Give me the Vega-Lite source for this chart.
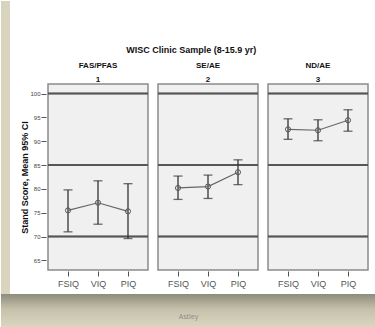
{
  "$schema": "https://vega.github.io/schema/vega-lite/v6.json",
  "background": "white",
  "padding": 0,
  "config": {
    "font": "Liberation Sans",
    "axisY": {"labelFontSize": 6, "labelColor": "#444", "tickColor": "#555", "tickSize": 5, "domain": false, "labelPadding": 1, "titleFontSize": 9, "titleFontWeight": "bold", "titleColor": "#111", "titlePadding": 0, "grid": false, "labelOverlap": false},
    "axisX": {"title": null, "labelAngle": 0, "labelFontSize": 9, "labelColor": "#555", "tickColor": "#555", "tickSize": 5, "domain": false, "labelPadding": 3}
  },
  "spacing": 0,
  "vconcat": [
    {
      "spacing": 10,
      "hconcat": [
        {
          "width": 9,
          "height": 293,
          "view": {"stroke": null},
          "data": {"values": [{"t": ""}]},
          "layer": [
            {"mark": {"type": "rect", "color": "#d9d4bd"}, "encoding": {}},
            {"mark": {"type": "rule", "x": 8.5, "color": "#333", "strokeWidth": 1}, "encoding": {}}
          ]
        },
        {
          "spacing": 0,
          "vconcat": [
            {
              "width": 10,
              "height": 45,
              "view": {"stroke": null},
              "data": {"values": [{"t": ""}]},
              "mark": {"type": "text"},
              "encoding": {"text": {"field": "t"}}
            },
            {
              "title": {"text": "WISC Clinic Sample (8-15.9 yr)", "fontSize": 9, "fontWeight": "bold", "color": "#111", "anchor": "middle", "frame": "bounds", "offset": 7, "dx": -4},
              "data": {"values": [
                {"group": "FAS/PFAS|1", "measure": "FSIQ", "mean": 75.5, "lo": 71.0, "hi": 79.8},
                {"group": "FAS/PFAS|1", "measure": "VIQ", "mean": 77.1, "lo": 72.6, "hi": 81.7},
                {"group": "FAS/PFAS|1", "measure": "PIQ", "mean": 75.3, "lo": 69.6, "hi": 81.1},
                {"group": "SE/AE|2", "measure": "FSIQ", "mean": 80.2, "lo": 77.8, "hi": 82.7},
                {"group": "SE/AE|2", "measure": "VIQ", "mean": 80.5, "lo": 78.0, "hi": 82.9},
                {"group": "SE/AE|2", "measure": "PIQ", "mean": 83.5, "lo": 80.9, "hi": 86.1},
                {"group": "ND/AE|3", "measure": "FSIQ", "mean": 92.5, "lo": 90.4, "hi": 94.7},
                {"group": "ND/AE|3", "measure": "VIQ", "mean": 92.3, "lo": 90.1, "hi": 94.5},
                {"group": "ND/AE|3", "measure": "PIQ", "mean": 94.4, "lo": 92.1, "hi": 96.6}
              ]},
              "facet": {
                "column": {
                  "field": "group", "type": "nominal",
                  "sort": ["FAS/PFAS|1", "SE/AE|2", "ND/AE|3"],
                  "header": {"title": null, "labelExpr": "split(datum.value, '|')", "labelFontSize": 8, "labelFontWeight": "bold", "labelColor": "#111", "labelLineHeight": 14, "labelPadding": -1}
                }
              },
              "spacing": 6,
              "spec": {
                "width": 100,
                "height": 186,
                "view": {"fill": "#f0f0f0", "stroke": "#8a8a8a", "strokeWidth": 1.5},
                "encoding": {
                  "x": {"field": "measure", "type": "nominal", "sort": ["FSIQ", "VIQ", "PIQ"], "scale": {"type": "point", "padding": 0.667}}
                },
                "layer": [
                  {"mark": {"type": "rule", "color": "#555", "strokeWidth": 1.5}, "encoding": {"x": null, "y": {"datum": 70, "type": "quantitative", "title": "Stand Score, Mean 95% CI", "scale": {"domain": [63, 102], "nice": false, "zero": false}, "axis": {"values": [65, 70, 75, 80, 85, 90, 95, 100]}}}},
                  {"mark": {"type": "rule", "color": "#555", "strokeWidth": 1.5}, "encoding": {"x": null, "y": {"datum": 85, "type": "quantitative", "title": "Stand Score, Mean 95% CI", "axis": {"values": [65, 70, 75, 80, 85, 90, 95, 100]}}}},
                  {"mark": {"type": "rule", "color": "#555", "strokeWidth": 1.5}, "encoding": {"x": null, "y": {"datum": 100, "type": "quantitative", "title": "Stand Score, Mean 95% CI", "axis": {"values": [65, 70, 75, 80, 85, 90, 95, 100]}}}},
                  {"mark": {"type": "rule", "color": "#333", "strokeWidth": 1.3}, "encoding": {"y": {"field": "lo", "type": "quantitative", "title": "Stand Score, Mean 95% CI", "axis": {"values": [65, 70, 75, 80, 85, 90, 95, 100]}}, "y2": {"field": "hi"}}},
                  {"mark": {"type": "tick", "color": "#333", "size": 9, "thickness": 1.3, "orient": "horizontal"}, "encoding": {"y": {"field": "lo", "type": "quantitative", "title": "Stand Score, Mean 95% CI", "axis": {"values": [65, 70, 75, 80, 85, 90, 95, 100]}}}},
                  {"mark": {"type": "tick", "color": "#333", "size": 9, "thickness": 1.3, "orient": "horizontal"}, "encoding": {"y": {"field": "hi", "type": "quantitative", "title": "Stand Score, Mean 95% CI", "axis": {"values": [65, 70, 75, 80, 85, 90, 95, 100]}}}},
                  {"mark": {"type": "line", "color": "#666", "strokeWidth": 1.2}, "encoding": {"y": {"field": "mean", "type": "quantitative", "title": "Stand Score, Mean 95% CI", "axis": {"values": [65, 70, 75, 80, 85, 90, 95, 100]}}}},
                  {"mark": {"type": "point", "shape": "circle", "size": 26, "filled": false, "color": "#555", "strokeWidth": 1, "opacity": 1}, "encoding": {"y": {"field": "mean", "type": "quantitative", "title": "Stand Score, Mean 95% CI", "axis": {"values": [65, 70, 75, 80, 85, 90, 95, 100]}}}}
                ]
              }
            }
          ]
        }
      ]
    },
    {
      "width": 375,
      "height": 34,
      "view": {"stroke": null},
      "data": {"values": [{"t": "Astley"}]},
      "layer": [
        {"mark": {"type": "rect", "color": {"gradient": "linear", "x1": 0, "y1": 0, "x2": 0, "y2": 1, "stops": [{"offset": 0, "color": "#8e8c7c"}, {"offset": 0.45, "color": "#c6c1ab"}, {"offset": 1, "color": "#dcd7c1"}]}}, "encoding": {}},
        {"mark": {"type": "text", "fontSize": 7, "color": "#8a8a8a", "font": "Open Sans", "dy": 6}, "encoding": {"text": {"field": "t"}}}
      ]
    }
  ]
}
